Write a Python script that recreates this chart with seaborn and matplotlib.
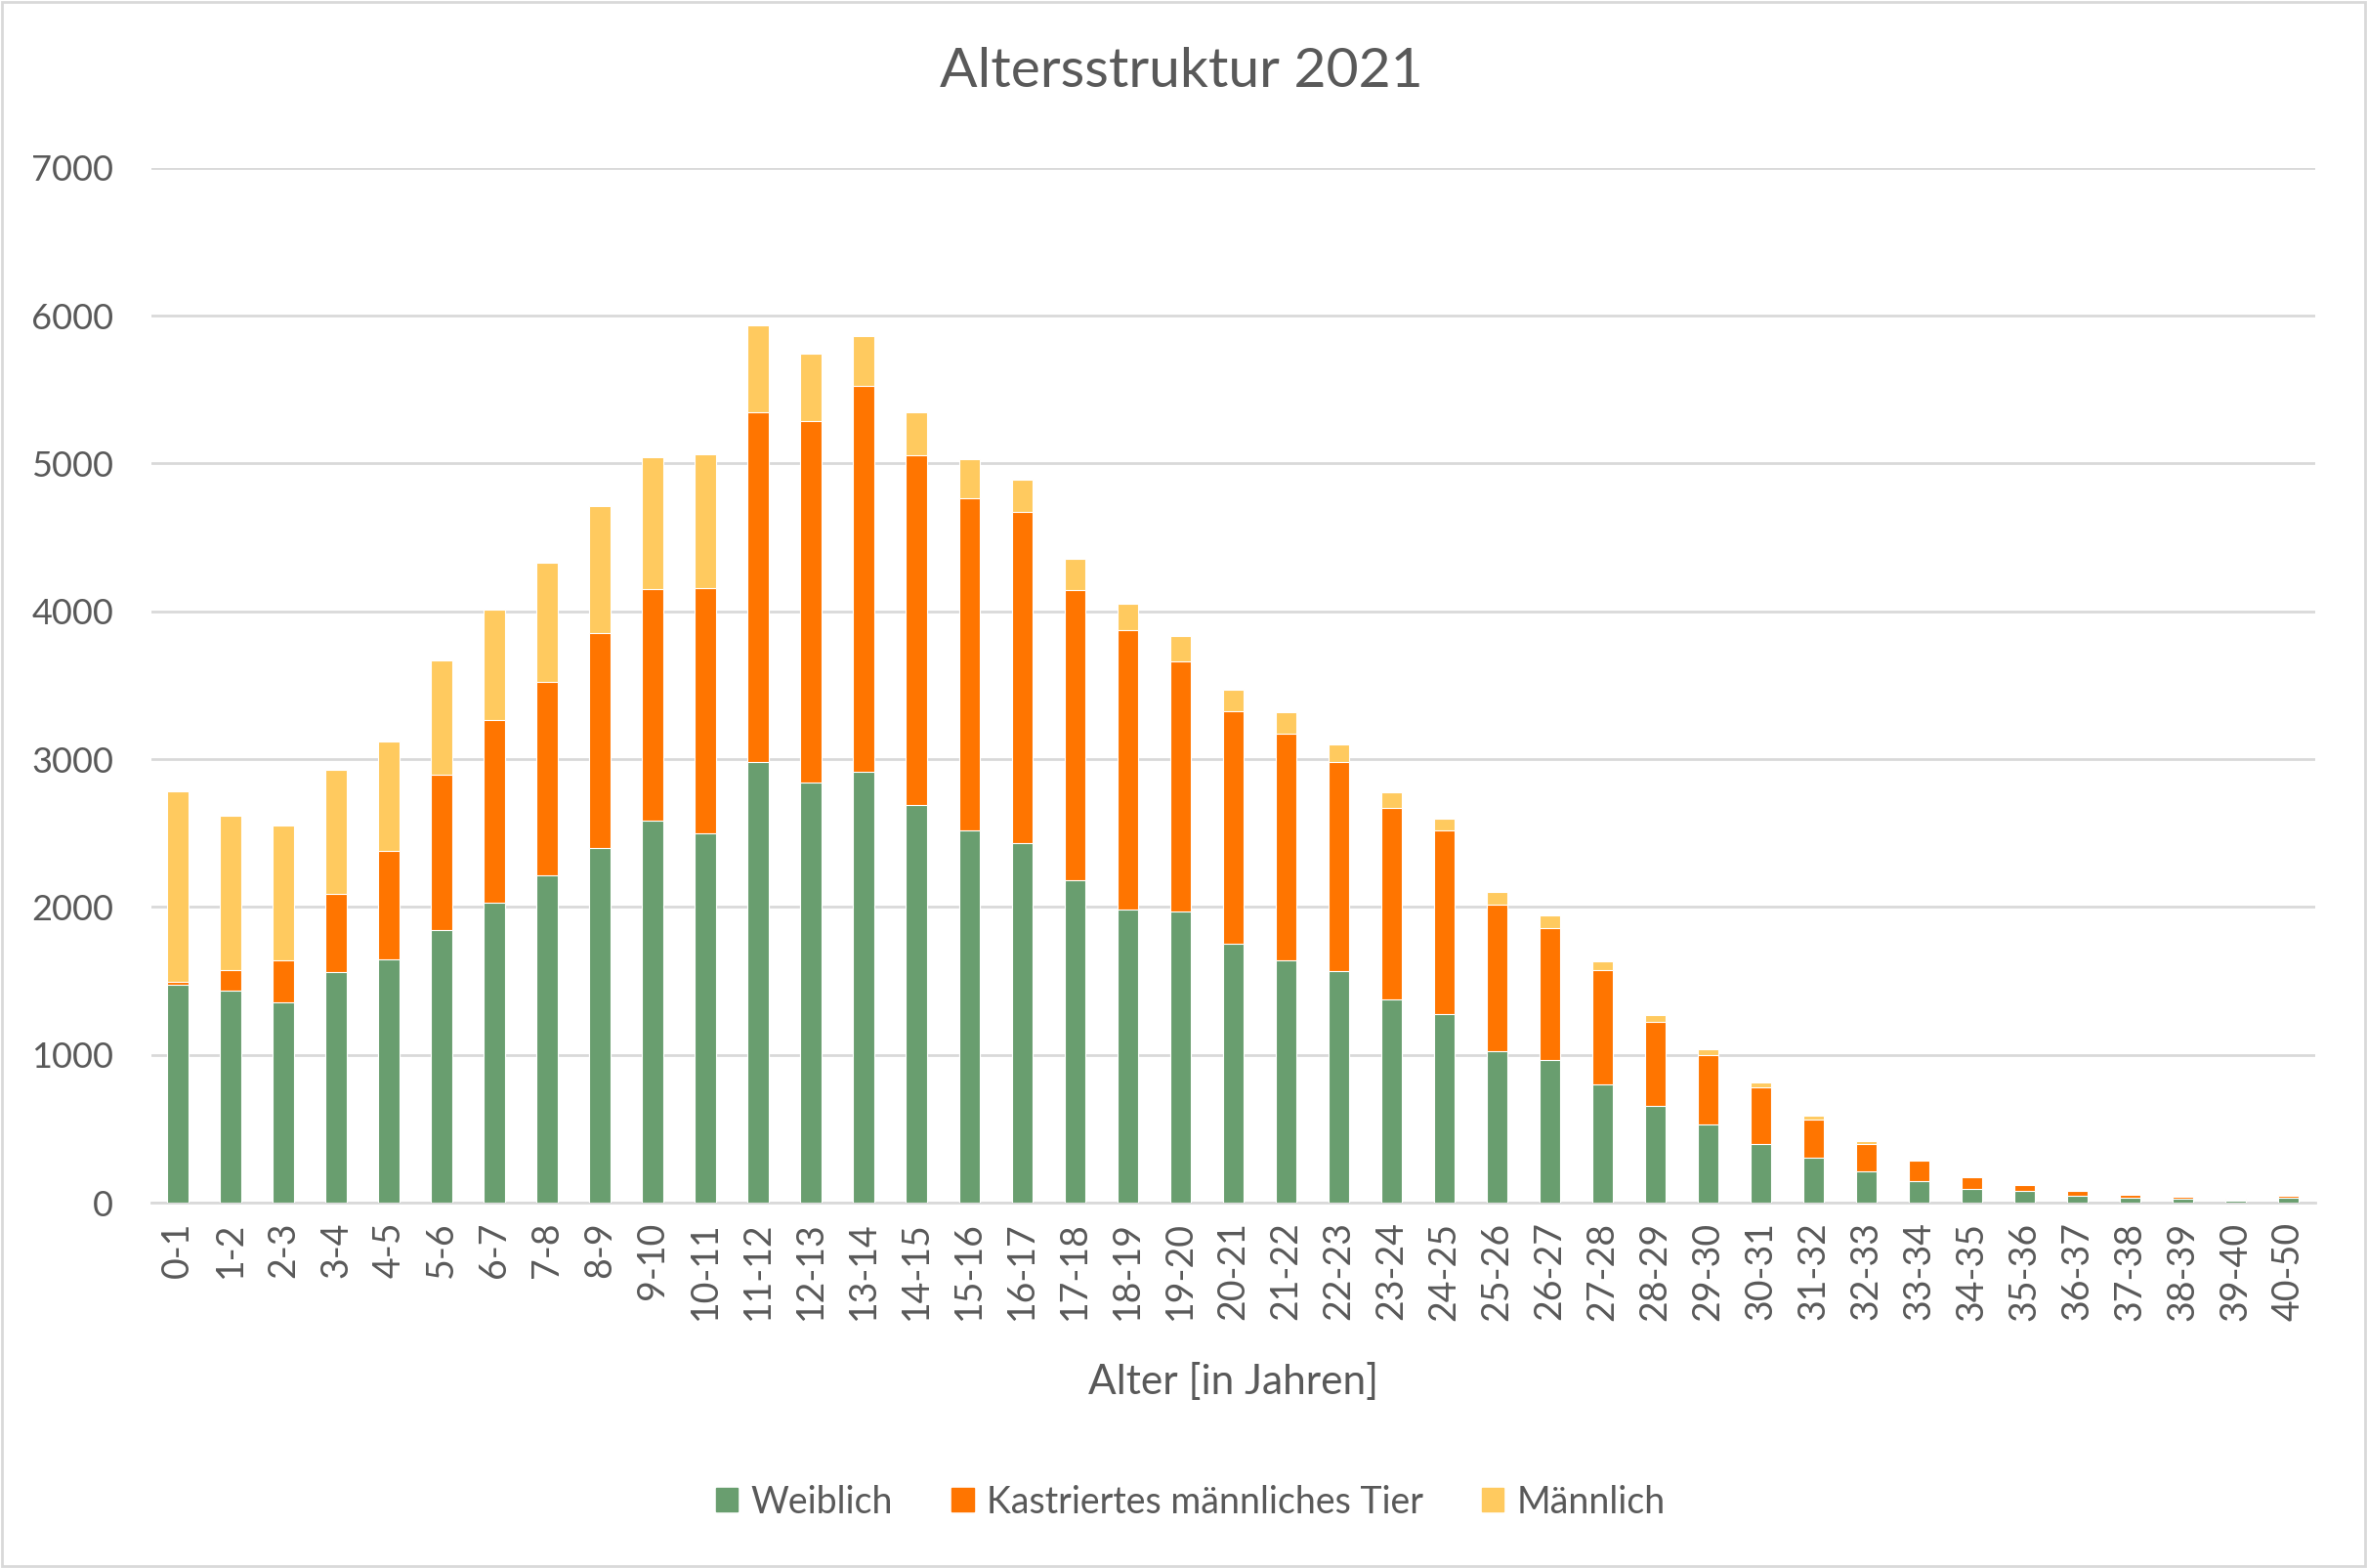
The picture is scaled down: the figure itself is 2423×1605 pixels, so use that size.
import pandas as pd
import matplotlib.pyplot as plt
import seaborn as sns
from matplotlib.patches import Patch, Rectangle

ALTER = ['0-1', '1-2', '2-3', '3-4', '4-5', '5-6', '6-7', '7-8', '8-9', '9-10',
         '10-11', '11-12', '12-13', '13-14', '14-15', '15-16', '16-17', '17-18',
         '18-19', '19-20', '20-21', '21-22', '22-23', '23-24', '24-25', '25-26',
         '26-27', '27-28', '28-29', '29-30', '30-31', '31-32', '32-33', '33-34',
         '34-35', '35-36', '36-37', '37-38', '38-39', '39-40', '40-50']

WEIBLICH = [1475, 1433, 1352, 1561, 1645, 1846, 2030, 2215, 2400, 2584,
            2500, 2981, 2841, 2917, 2693, 2520, 2432, 2183, 1982, 1970,
            1750, 1637, 1565, 1375, 1273, 1027, 962, 797, 652, 526,
            400, 301, 214, 148, 90, 77, 44, 30, 25, 12, 30]

KASTRIERT = [20, 140, 285, 530, 735, 1047, 1236, 1308, 1452, 1565,
             1657, 2364, 2444, 2605, 2363, 2247, 2243, 1958, 1890, 1694,
             1573, 1537, 1417, 1298, 1246, 989, 896, 773, 573, 474,
             381, 261, 183, 137, 83, 44, 33, 25, 12, 10, 19]

MAENNLICH = [1290, 1043, 911, 838, 742, 775, 747, 807, 859, 891,
             903, 590, 457, 337, 293, 265, 217, 217, 181, 172,
             144, 141, 120, 104, 80, 83, 82, 60, 41, 41,
             35, 24, 17, 3, 2, 5, 2, 3, 4, 5, 3]

GREEN = '#699E6F'
ORANGE = '#FF7500'
YELLOW = '#FFCA5F'
TEXT = '#595959'
GRID = '#D9D9D9'


def build_frame():
    df = pd.DataFrame({'alter': ALTER,
                       'weiblich': WEIBLICH,
                       'kastriert': KASTRIERT,
                       'maennlich': MAENNLICH})
    # cumulative heights so the bars can be drawn on top of each other
    df['stufe2'] = df['weiblich'] + df['kastriert']
    df['gesamt'] = df['stufe2'] + df['maennlich']
    return df


def draw(df):
    sns.set_style('white')
    plt.rcParams['font.family'] = ['Lato', 'DejaVu Sans']

    fig = plt.figure(figsize=(24.23, 16.05), dpi=100)
    ax = fig.add_axes([0.064, 0.233, 0.914, 0.660])

    bar_kws = dict(x='alter', width=0.4, saturation=1, edgecolor='white',
                   linewidth=0.8, ax=ax, zorder=3)
    sns.barplot(data=df, y='gesamt', color=YELLOW, **bar_kws)
    sns.barplot(data=df, y='stufe2', color=ORANGE, **bar_kws)
    sns.barplot(data=df, y='weiblich', color=GREEN, **bar_kws)

    ax.set_ylim(0, 7000)
    ax.set_xlim(-0.5, len(ALTER) - 0.5)
    ax.set_yticks(range(0, 7001, 1000))
    ax.yaxis.grid(True, color=GRID, linewidth=2, zorder=0)
    ax.set_axisbelow(True)
    for side in ['left', 'right', 'top']:
        ax.spines[side].set_visible(False)
    ax.spines['bottom'].set_color(GRID)
    ax.spines['bottom'].set_linewidth(2)
    ax.tick_params(axis='x', labelrotation=90, length=0, pad=14,
                   labelsize=27, labelcolor=TEXT)
    ax.tick_params(axis='y', length=0, pad=28, labelsize=26, labelcolor=TEXT)
    ax.set_xlabel('')
    ax.set_ylabel('')

    fig.text(0.499, 0.954, 'Altersstruktur 2021', ha='center', va='center',
             fontsize=41, color=TEXT)
    fig.text(0.521, 0.119, 'Alter [in Jahren]', ha='center', va='center',
             fontsize=30.5, color=TEXT)

    handles = [Patch(color=GREEN, label='Weiblich'),
               Patch(color=ORANGE, label='Kastriertes männliches Tier'),
               Patch(color=YELLOW, label='Männlich')]
    leg = fig.legend(handles=handles, loc='center', bbox_to_anchor=(0.503, 0.042),
                     ncol=3, frameon=False, fontsize=27, handlelength=0.6,
                     handleheight=0.6, handletextpad=0.35, columnspacing=1.6)
    for t in leg.get_texts():
        t.set_color(TEXT)

    fig.patches.append(Rectangle((0.001, 0.001), 0.998, 0.998, transform=fig.transFigure,
                                 fill=False, edgecolor=GRID, linewidth=2))
    fig.savefig('out.png', dpi=100)


if __name__ == '__main__':
    data = build_frame()
    draw(data)
